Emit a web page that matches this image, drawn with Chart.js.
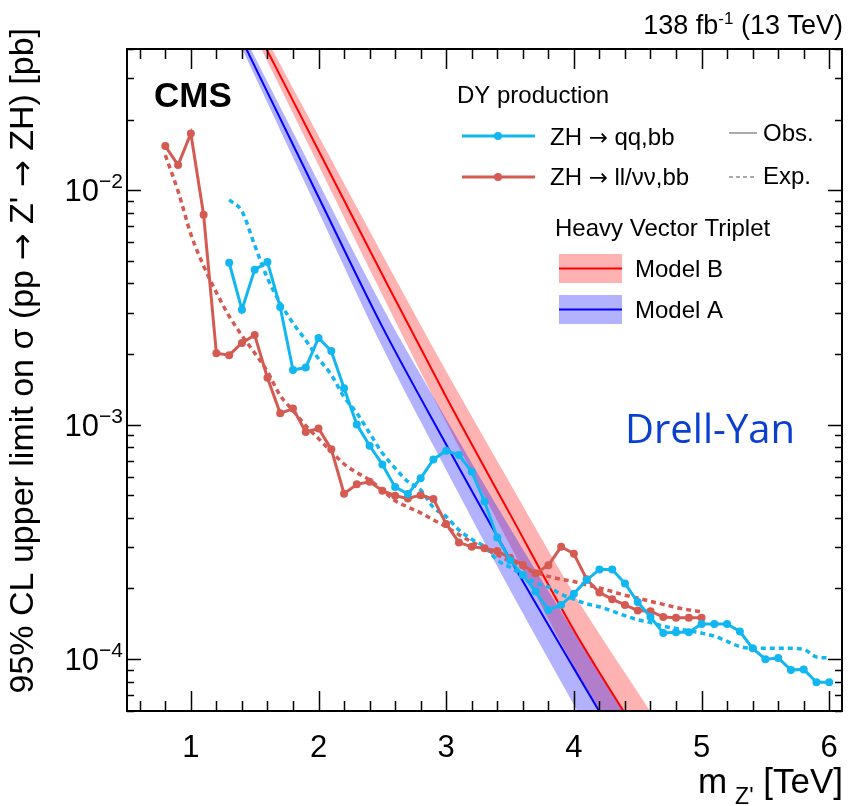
<!DOCTYPE html>
<html>
<head>
<meta charset="utf-8">
<script src="https://cdn.jsdelivr.net/npm/chart.js@4.4.1/dist/chart.umd.min.js"></script>
<style>
  html, body { margin: 0; padding: 0; background: #fff; }
  #wrap { width: 848px; height: 806px; }
</style>
</head>
<body>
<div id="wrap"><canvas id="chart_limit" width="848" height="806"></canvas></div>
<script>
// ZH -> qq,bb (observed / expected), masses in TeV, limits in pb
const massQQ = [1.3,1.4,1.5,1.6,1.7,1.8,1.9,2.0,2.1,2.2,2.3,2.4,2.5,2.6,2.7,2.8,2.9,3.0,3.1,3.2,3.3,3.4,3.5,3.6,3.7,3.8,3.9,4.0,
  4.1,4.2,4.3,4.4,4.5,4.6,4.7,4.8,4.9,5.0,5.1,5.2,5.3,5.4,5.5,5.6,5.7,5.8,5.9,6.0];
const obsQQ = [4.90e-3,3.09e-3,4.58e-3,4.94e-3,3.17e-3,1.71e-3,1.75e-3,2.34e-3,2.06e-3,1.43e-3,1.00e-3,8.13e-4,6.76e-4,5.41e-4,
  5.06e-4,5.90e-4,7.10e-4,7.73e-4,7.41e-4,6.29e-4,4.70e-4,3.30e-4,2.64e-4,2.28e-4,1.94e-4,1.62e-4,1.70e-4,1.90e-4,2.17e-4,
  2.41e-4,2.41e-4,2.10e-4,1.75e-4,1.51e-4,1.29e-4,1.30e-4,1.30e-4,1.41e-4,1.41e-4,1.41e-4,1.31e-4,1.11e-4,9.98e-5,1.01e-4,
  8.98e-5,9.03e-5,7.96e-5,7.96e-5];
const expQQ = [9.10e-3,8.13e-3,5.82e-3,4.21e-3,3.30e-3,2.71e-3,2.29e-3,1.91e-3,1.63e-3,1.31e-3,1.12e-3,9.20e-4,7.56e-4,6.52e-4,
  5.71e-4,5.26e-4,4.43e-4,4.05e-4,3.55e-4,3.24e-4,3.01e-4,2.64e-4,2.46e-4,2.28e-4,2.11e-4,2.03e-4,1.89e-4,1.80e-4,1.72e-4,
  1.67e-4,1.60e-4,1.53e-4,1.47e-4,1.43e-4,1.38e-4,1.35e-4,1.32e-4,1.29e-4,1.25e-4,1.19e-4,1.13e-4,1.11e-4,1.11e-4,1.11e-4,
  1.11e-4,1.10e-4,1.02e-4,1.01e-4];

// ZH -> ll/vv,bb
const massLL = [0.8,0.9,1.0,1.1,1.2,1.3,1.4,1.5,1.6,1.7,1.8,1.9,2.0,2.1,2.2,2.3,2.4,2.5,2.6,2.7,2.8,2.9,3.0,3.1,3.2,3.3,3.4,
  3.5,3.6,3.7,3.8,3.9,4.0,4.1,4.2,4.3,4.4,4.5,4.6,4.7,4.8,4.9,5.0];
const obsLL = [1.541e-2,1.279e-2,1.746e-2,7.85e-3,2.014e-3,1.977e-3,2.228e-3,2.410e-3,1.585e-3,1.117e-3,1.170e-3,9.30e-4,9.62e-4,
  7.85e-4,5.07e-4,5.56e-4,5.70e-4,5.22e-4,4.97e-4,4.84e-4,5.00e-4,4.81e-4,3.77e-4,3.14e-4,3.01e-4,2.97e-4,2.89e-4,2.70e-4,
  2.52e-4,2.32e-4,2.51e-4,3.01e-4,2.81e-4,2.19e-4,1.92e-4,1.80e-4,1.70e-4,1.61e-4,1.60e-4,1.51e-4,1.50e-4,1.50e-4,1.50e-4];
const expLL = [1.41e-2,9.9e-3,6.49e-3,4.75e-3,3.66e-3,2.90e-3,2.40e-3,2.02e-3,1.68e-3,1.33e-3,1.15e-3,9.89e-4,8.71e-4,7.67e-4,
  6.79e-4,6.24e-4,5.80e-4,5.25e-4,4.73e-4,4.45e-4,4.20e-4,3.92e-4,3.66e-4,3.39e-4,3.16e-4,2.96e-4,2.78e-4,2.61e-4,2.45e-4,
  2.34e-4,2.25e-4,2.19e-4,2.14e-4,2.07e-4,2.01e-4,1.94e-4,1.87e-4,1.82e-4,1.76e-4,1.71e-4,1.66e-4,1.62e-4,1.59e-4];

// Heavy Vector Triplet predictions with uncertainty band
const massHVT = [1.0,1.5,2.0,2.5,3.0,3.5,4.0,4.5,5.0];
const modelB = [0.1694,0.0501,1.476e-2,4.355e-3,1.312e-3,4.15e-4,1.327e-4,4.79e-5,1.74e-5];
const modelBUp = [0.1762,0.0550,1.706e-2,5.31e-3,1.687e-3,5.62e-4,1.897e-4,7.21e-5,2.76e-5];
const modelBDown = [0.1629,0.0457,1.276e-2,3.57e-3,1.021e-3,3.06e-4,9.29e-5,3.18e-5,1.09e-5];
const modelA = [0.1227,0.0338,9.35e-3,2.61e-3,8.22e-4,2.67e-4,9.12e-5,3.15e-5,1.10e-5];
const modelAUp = [0.1276,0.0371,1.081e-2,3.18e-3,1.057e-3,3.62e-4,1.303e-4,4.75e-5,1.74e-5];
const modelADown = [0.1180,0.0308,8.09e-3,2.14e-3,6.40e-4,1.97e-4,6.38e-5,2.09e-5,6.90e-6];

const xTicks = [1, 2, 3, 4, 5, 6];
const yTicks = [1e-4, 1e-3, 1e-2];
const yTickExp = ['\u22124', '\u22123', '\u22122'];

const FONT = "'Liberation Sans', Arial, Helvetica, sans-serif";
const ARROW_FONT = "'DejaVu Sans', sans-serif";
const BLUE = 'rgb(18,182,240)';
const RED = 'rgb(212,90,82)';

const pts = (xs, ys) => xs.map((m, i) => ({x: m, y: ys[i]}));

function textSup(ctx, base, sup, x, y, size, supSize, rise) {
  // base + superscript from x, returns end x
  ctx.font = size + 'px ' + FONT;
  ctx.fillText(base, x, y);
  const wb = ctx.measureText(base).width;
  ctx.font = supSize + 'px ' + FONT;
  ctx.fillText(sup, x + wb, y - rise);
  return x + wb + ctx.measureText(sup).width;
}

// text where arrows come from DejaVu (wider, like the ROOT symbol font)
function arrowText(ctx, str, x, y, size, align) {
  const parts = str.split('\u2192');
  const seg = [];
  parts.forEach((p, i) => {
    if (i > 0) seg.push(['\u2192', size * 0.95 + 'px ' + ARROW_FONT]);
    seg.push([p, size + 'px ' + FONT]);
  });
  let total = 0;
  seg.forEach(s => { ctx.font = s[1]; s.push(ctx.measureText(s[0]).width); total += s[2]; });
  let cx = align === 'right' ? x - total : x;
  ctx.textAlign = 'left';
  seg.forEach(s => { ctx.font = s[1]; ctx.fillText(s[0], cx, y); cx += s[2]; });
}

const rootFrame = {
  id: 'rootFrame',
  afterDraw(chart) {
    const {ctx, chartArea: a, scales: {x, y}} = chart;
    ctx.save();
    ctx.strokeStyle = '#000';
    ctx.fillStyle = '#000';

    // ticks, pointing inwards on all four sides
    ctx.lineWidth = 1.5;
    ctx.beginPath();
    for (let k = 3; k <= 30; k++) {
      const v = k * 0.2;
      const px = Math.round(x.getPixelForValue(v)) + 0.5;
      const len = (k % 5 === 0) ? 20 : 10;
      ctx.moveTo(px, a.bottom); ctx.lineTo(px, a.bottom - len);
      ctx.moveTo(px, a.top); ctx.lineTo(px, a.top + len);
    }
    for (let d = -5; d <= -1; d++) {
      for (let m = 1; m <= 9; m++) {
        const v = m * Math.pow(10, d);
        if (v < y.min * 0.999 || v > y.max * 1.001) continue;
        const py = Math.round(y.getPixelForValue(v)) + 0.5;
        const len = (m === 1) ? 14 : 7;
        ctx.moveTo(a.left, py); ctx.lineTo(a.left + len, py);
        ctx.moveTo(a.right, py); ctx.lineTo(a.right - len, py);
      }
    }
    ctx.stroke();

    ctx.lineWidth = 2;
    ctx.strokeRect(a.left, a.top, a.right - a.left, a.bottom - a.top);

    // tick labels
    ctx.font = '31px ' + FONT;
    ctx.textAlign = 'center';
    ctx.textBaseline = 'alphabetic';
    xTicks.forEach(v => ctx.fillText(String(v), x.getPixelForValue(v), 757));
    ctx.textAlign = 'left';
    yTicks.forEach((v, i) => {
      const py = y.getPixelForValue(v);
      ctx.font = '31px ' + FONT;
      const wb = ctx.measureText('10').width;
      ctx.font = '21px ' + FONT;
      const ws = ctx.measureText(yTickExp[i]).width;
      textSup(ctx, '10', yTickExp[i], 123 - wb - ws, py + 11, 31, 21, 13);
    });

    // axis titles
    ctx.font = '35px ' + FONT;
    const wTeV = ctx.measureText(' [TeV]').width;
    ctx.textAlign = 'right';
    ctx.fillText(' [TeV]', 843, 793);
    ctx.font = '23px ' + FONT;
    ctx.fillText("Z'", 843 - wTeV, 804);
    const wZ = ctx.measureText("Z'").width;
    ctx.font = '35px ' + FONT;
    ctx.fillText('m', 843 - wTeV - wZ - 8, 793);

    ctx.save();
    ctx.translate(33, 28);
    ctx.rotate(-Math.PI / 2);
    arrowText(ctx, "95% CL upper limit on \u03c3 (pp \u2192 Z' \u2192 ZH) [pb]", 0, 0, 34, 'right');
    ctx.restore();

    // luminosity label
    ctx.textAlign = 'left';
    ctx.font = '27px ' + FONT;
    const w1 = ctx.measureText('138 fb').width;
    const w3 = ctx.measureText(' (13 TeV)').width;
    ctx.font = '17px ' + FONT;
    const w2 = ctx.measureText('-1').width;
    const lx = 843 - w1 - w2 - w3;
    const ex = textSup(ctx, '138 fb', '-1', lx, 34, 27, 17, 10);
    ctx.font = '27px ' + FONT;
    ctx.fillText(' (13 TeV)', ex, 34);

    ctx.font = 'bold 35px ' + FONT;
    ctx.fillText('CMS', 154, 107);

    ctx.font = "40px 'Open Sans', " + FONT;
    ctx.fillStyle = '#0a3fcf';
    ctx.fillText('Drell-Yan', 625, 443);

    // legend
    ctx.fillStyle = '#000';
    ctx.font = '24px ' + FONT;
    ctx.fillText('DY production', 457, 103);
    [[BLUE, 136, 'ZH \u2192 qq,bb', 145], [RED, 177, 'ZH \u2192 ll/\u03bd\u03bd,bb', 185]].forEach(([c, ly, t, tb]) => {
      ctx.strokeStyle = c; ctx.fillStyle = c; ctx.lineWidth = 3;
      ctx.beginPath(); ctx.moveTo(462, ly); ctx.lineTo(535, ly); ctx.stroke();
      ctx.beginPath(); ctx.arc(498, ly, 4, 0, 2 * Math.PI); ctx.fill();
      ctx.fillStyle = '#000';
      arrowText(ctx, t, 550, tb, 24, 'left');
    });
    ctx.font = '24px ' + FONT;
    ctx.strokeStyle = '#aaa'; ctx.lineWidth = 2;
    ctx.beginPath(); ctx.moveTo(729, 133); ctx.lineTo(757, 133); ctx.stroke();
    ctx.setLineDash([4, 3]);
    ctx.beginPath(); ctx.moveTo(729, 177); ctx.lineTo(757, 177); ctx.stroke();
    ctx.setLineDash([]);
    ctx.fillText('Obs.', 763, 141);
    ctx.fillText('Exp.', 763, 184);
    ctx.fillText('Heavy Vector Triplet', 555, 236);
    [['rgba(255,0,0,0.3)', '#ff0000', 254, 'Model B'], ['rgba(0,0,255,0.3)', '#0000ff', 295, 'Model A']].forEach(([f, c, by, t]) => {
      ctx.fillStyle = f; ctx.fillRect(559, by, 63, 29);
      ctx.strokeStyle = c; ctx.lineWidth = 2;
      ctx.beginPath(); ctx.moveTo(559, by + 14.5); ctx.lineTo(622, by + 14.5); ctx.stroke();
      ctx.fillStyle = '#000';
      ctx.fillText(t, 635, by + 23);
    });
    ctx.restore();
  }
};

const chartLimit = document.getElementById('chart_limit');
const myChart = new Chart(chartLimit, {
  type: 'line',
  data: {
    datasets: [
      {label: 'ZH qq,bb obs', data: pts(massQQ, obsQQ), borderColor: BLUE, backgroundColor: BLUE,
        borderWidth: 3, pointRadius: 4, pointBorderWidth: 0, order: 1},
      {label: 'ZH ll/vv,bb obs', data: pts(massLL, obsLL), borderColor: RED, backgroundColor: RED,
        borderWidth: 3, pointRadius: 4, pointBorderWidth: 0, order: 2},
      {label: 'ZH qq,bb exp', data: pts(massQQ, expQQ), borderColor: BLUE, borderWidth: 3.5,
        borderDash: [5, 4], pointRadius: 0, cubicInterpolationMode: 'monotone', order: 3},
      {label: 'ZH ll/vv,bb exp', data: pts(massLL, expLL), borderColor: RED, borderWidth: 3.5,
        borderDash: [5, 4], pointRadius: 0, cubicInterpolationMode: 'monotone', order: 4},
      {label: 'Model B', data: pts(massHVT, modelB), borderColor: '#ff0000', borderWidth: 2, pointRadius: 0,
        cubicInterpolationMode: 'monotone', order: 5},
      {label: 'Model A', data: pts(massHVT, modelA), borderColor: '#0000ff', borderWidth: 2, pointRadius: 0,
        cubicInterpolationMode: 'monotone', order: 6},
      {label: 'Model A up', data: pts(massHVT, modelAUp), borderColor: 'transparent', pointRadius: 0,
        cubicInterpolationMode: 'monotone', fill: '+1', backgroundColor: 'rgba(0,0,255,0.3)', order: 7},
      {label: 'Model A down', data: pts(massHVT, modelADown), borderColor: 'transparent', pointRadius: 0,
        cubicInterpolationMode: 'monotone', order: 8},
      {label: 'Model B up', data: pts(massHVT, modelBUp), borderColor: 'transparent', pointRadius: 0,
        cubicInterpolationMode: 'monotone', fill: '+1', backgroundColor: 'rgba(255,0,0,0.3)', order: 9},
      {label: 'Model B down', data: pts(massHVT, modelBDown), borderColor: 'transparent', pointRadius: 0,
        cubicInterpolationMode: 'monotone', order: 10}
    ]
  },
  plugins: [rootFrame],
  options: {
    responsive: false,
    animation: false,
    devicePixelRatio: 1,
    clip: 0,
    layout: {
      padding: {left: 127, right: 6, top: 49, bottom: 95}
    },
    plugins: {
      legend: {display: false},
      tooltip: {enabled: false}
    },
    scales: {
      x: {type: 'linear', min: 0.5, max: 6.1, display: false},
      y: {type: 'logarithmic', min: 6e-5, max: 0.04, display: false}
    }
  }
});
</script>
</body>
</html>
